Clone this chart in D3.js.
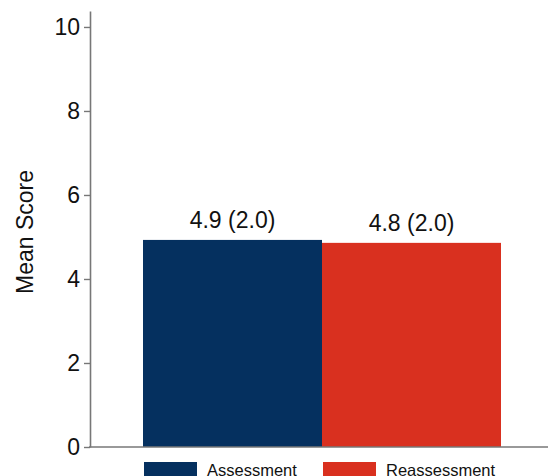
<!DOCTYPE html>
<html>
<head>
<meta charset="utf-8">
<script src="https://cdn.jsdelivr.net/npm/d3@7"></script>
<style>
  html, body { margin: 0; padding: 0; background: #fff; }
  svg { display: block; font-family: Arial, "Liberation Sans", sans-serif; }
</style>
</head>
<body>
<svg id="chart" width="548" height="476"></svg>
<script>
// Mean score (SD) at each time point
const categories = ["Assessment", "Reassessment"];
const means = [4.93, 4.86];
const valueLabels = ["4.9 (2.0)", "4.8 (2.0)"];
const colors = ["#05305f", "#d9301f"];
const yTicks = [0, 2, 4, 6, 8, 10];

const svg = d3.select("#chart");

const y = d3.scaleLinear().domain([0, 10.38]).range([447, 11]);
const x = d3.scaleBand().domain(categories).range([143, 501]).padding(0);

// Bars
svg.selectAll("rect.bar")
  .data(categories)
  .join("rect")
  .attr("class", "bar")
  .attr("x", d => x(d))
  .attr("width", x.bandwidth())
  .attr("y", (d, i) => y(means[i]))
  .attr("height", (d, i) => y(0) - y(means[i]))
  .attr("fill", (d, i) => colors[i]);

// Value labels above bars
svg.selectAll("text.val")
  .data(categories)
  .join("text")
  .attr("class", "val")
  .attr("x", d => x(d) + x.bandwidth() / 2)
  .attr("y", (d, i) => y(means[i]) - 12)
  .attr("text-anchor", "middle")
  .attr("font-size", 23)
  .attr("fill", "#111")
  .text((d, i) => valueLabels[i]);

// Y axis
const yAxis = svg.append("g")
  .attr("transform", "translate(90,0)")
  .call(d3.axisLeft(y).tickValues(yTicks).tickSize(6).tickSizeOuter(0).tickPadding(4));
yAxis.select(".domain").attr("stroke", "#777").attr("stroke-width", 1.6);
yAxis.selectAll(".tick line").attr("stroke", "#777").attr("stroke-width", 1.4);
yAxis.selectAll(".tick text")
  .attr("font-size", 23)
  .attr("fill", "#111")
  .attr("font-family", "Arial, 'Liberation Sans', sans-serif");

// X baseline
svg.append("line")
  .attr("x1", 89).attr("x2", 548)
  .attr("y1", y(0)).attr("y2", y(0))
  .attr("stroke", "#777").attr("stroke-width", 1.6);

// Y axis title
svg.append("text")
  .attr("transform", `translate(33,${232}) rotate(-90)`)
  .attr("text-anchor", "middle")
  .attr("font-size", 23)
  .attr("fill", "#111")
  .text("Mean Score");

// Legend
const legend = svg.selectAll("g.legend")
  .data(categories)
  .join("g")
  .attr("class", "legend")
  .attr("transform", (d, i) => `translate(${x(d) + 1},462)`);
legend.append("rect")
  .attr("width", 53).attr("height", 16)
  .attr("fill", (d, i) => colors[i]);
legend.append("text")
  .attr("x", 63).attr("y", 14)
  .attr("font-size", 16.5)
  .attr("fill", "#111")
  .text(d => d);
</script>
</body>
</html>
